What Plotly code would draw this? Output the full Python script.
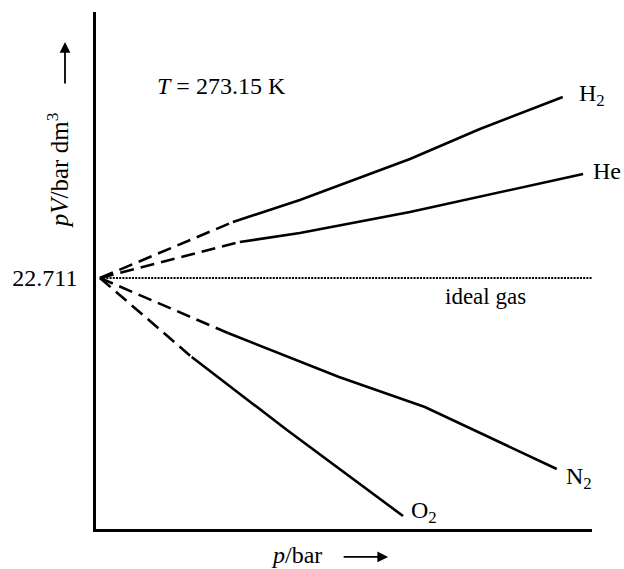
import plotly.graph_objects as go

# Data (p in arbitrary units, pV in bar dm^3)
h2_p = [0, 26.8, 40.3, 62.5, 76.6, 93.3]
h2_pv = [22.711, 23.271, 23.491, 23.901, 24.201, 24.521]
he_p = [0, 28.2, 40.3, 62.5, 97.4]
he_pv = [22.711, 23.071, 23.161, 23.371, 23.751]
n2_p = [0, 25.8, 48.2, 65.5, 92.1]
n2_pv = [22.711, 22.161, 21.721, 21.421, 20.801]
o2_p = [0, 18.5, 37.7, 61.1]
o2_pv = [22.711, 21.921, 21.191, 20.331]
ideal_p = [0, 99.2]
ideal_pv = [22.711, 22.711]
tick_vals = [22.711]
tick_text = ["22.711"]

FONT = "Liberation Serif"
LW = 2.6
fig = go.Figure()

def add_curve(p, pv):
    # dashed extrapolation to p=0, solid measured part
    fig.add_trace(go.Scatter(x=p[:2], y=pv[:2], mode="lines",
                             line=dict(color="black", width=LW, dash="14px,7px"),
                             showlegend=False, hoverinfo="skip"))
    fig.add_trace(go.Scatter(x=p[1:], y=pv[1:], mode="lines",
                             line=dict(color="black", width=LW),
                             showlegend=False))

for p, pv in [(h2_p, h2_pv), (he_p, he_pv), (n2_p, n2_pv), (o2_p, o2_pv)]:
    add_curve(p, pv)

fig.add_trace(go.Scatter(x=ideal_p, y=ideal_pv, mode="lines",
                         line=dict(color="black", width=2.2, dash="2px,1.2px"),
                         showlegend=False))

lab_font = dict(family=FONT, size=24, color="black")
anns = [
    dict(x=96.2, y=24.541, text="H<sub>2</sub>", showarrow=False, xanchor="left", yanchor="middle", font=lab_font),
    dict(x=99.0, y=23.781, text="He", showarrow=False, xanchor="left", yanchor="middle", font=lab_font),
    dict(x=93.6, y=20.711, text="N<sub>2</sub>", showarrow=False, xanchor="left", yanchor="middle", font=lab_font),
    dict(x=62.4, y=20.371, text="O<sub>2</sub>", showarrow=False, xanchor="left", yanchor="middle", font=lab_font),
    dict(x=77.8, y=22.531, text="ideal gas", showarrow=False, xanchor="center", yanchor="middle",
         font=dict(family=FONT, size=23, color="black")),
    dict(x=0.254, y=0.857, xref="paper", yref="paper", text="<i>T</i> = 273.15 K",
         showarrow=False, xanchor="center", yanchor="middle", font=lab_font),
    # y-axis title (rotated) and its arrow
    dict(x=-0.0766, y=0.694, xref="paper", yref="paper", text="<i>pV</i>/bar dm<sup>3</sup>",
         textangle=-90, showarrow=False, xanchor="center", yanchor="middle",
         font=dict(family=FONT, size=25, color="black")),
    dict(x=-0.0625, y=0.942, xref="paper", yref="paper", text="", showarrow=True,
         ax=0, ay=43, arrowhead=2, arrowsize=1.2, arrowwidth=1.8, arrowcolor="black"),
    # x-axis title and its arrow
    dict(x=0.405, y=-0.050, xref="paper", yref="paper", text="<i>p</i>/bar",
         showarrow=False, xanchor="center", yanchor="middle",
         font=dict(family=FONT, size=24, color="black")),
    dict(x=0.589, y=-0.0541, xref="paper", yref="paper", text="", showarrow=True,
         ax=-46, ay=0, arrowhead=2, arrowsize=1.2, arrowwidth=1.8, arrowcolor="black"),
]

fig.update_layout(
    width=624, height=569,
    margin=dict(l=96, r=32, t=12, b=40),
    paper_bgcolor="white", plot_bgcolor="white",
    annotations=anns,
    xaxis=dict(range=[-0.8, 99.2], showgrid=False, zeroline=False, showticklabels=False,
               showline=True, linecolor="black", linewidth=2.5, ticks="", automargin=False),
    yaxis=dict(range=[20.201, 25.371], showgrid=False, zeroline=False,
               tickvals=tick_vals, ticktext=tick_text, ticks="", ticklabelstandoff=11,
               tickfont=dict(family=FONT, size=24, color="black"), automargin=False,
               showline=True, linecolor="black", linewidth=2.5),
)

fig.write_html("out.html", config={"displayModeBar": False},
               post_script="document.body.style.margin='0px';document.body.style.overflow='hidden';")
